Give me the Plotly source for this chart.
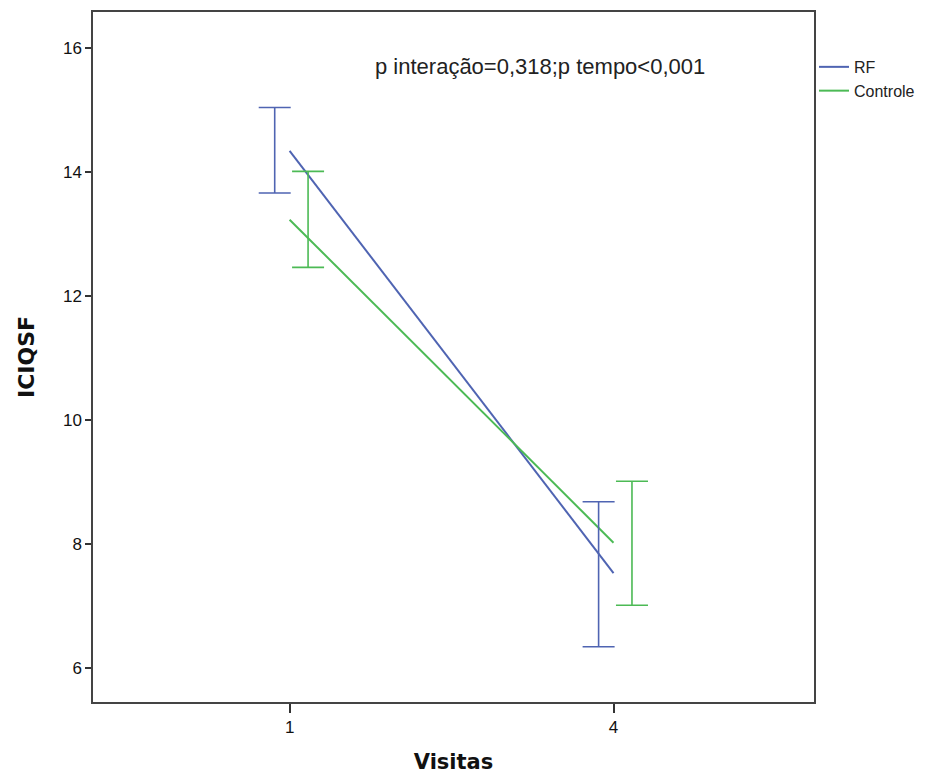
import plotly.graph_objects as go

# Data
visits = ["1", "4"]
series_names = ["RF", "Controle"]
rf_mean = [14.34, 7.53]
rf_upper = [15.04, 8.68]
rf_lower = [13.66, 6.34]
ctrl_mean = [13.23, 8.02]
ctrl_upper = [14.01, 9.01]
ctrl_lower = [12.46, 7.01]
y_ticks = [6, 8, 10, 12, 14, 16]

annotation_text = "p interação=0,318;p tempo<0,001"

colors = {"RF": "#4f64b2", "Controle": "#4cba55"}
offsets = {"RF": -0.046, "Controle": 0.057}

pos = list(range(len(visits)))

fig = go.Figure()

data = {
    "RF": (rf_mean, rf_upper, rf_lower),
    "Controle": (ctrl_mean, ctrl_upper, ctrl_lower),
}

for name in series_names:
    mean, up, lo = data[name]
    fig.add_trace(go.Scatter(
        x=pos, y=mean, mode="lines", name=name,
        line=dict(color=colors[name], width=2),
    ))

for name in series_names:
    mean, up, lo = data[name]
    fig.add_trace(go.Scatter(
        x=[p + offsets[name] for p in pos], y=mean, mode="markers",
        marker=dict(size=1, color="rgba(0,0,0,0)"),
        showlegend=False, hoverinfo="skip",
        error_y=dict(
            type="data", symmetric=False,
            array=[u - m for u, m in zip(up, mean)],
            arrayminus=[m - l for m, l in zip(mean, lo)],
            color=colors[name], thickness=1.6, width=16,
        ),
    ))

fig.add_annotation(
    x=0.62, y=0.921, xref="paper", yref="paper",
    xanchor="center", yanchor="middle",
    text=annotation_text, showarrow=False,
    font=dict(family="Liberation Sans, Arial", size=22, color="#222"),
)

fig.update_layout(
    width=914, height=766,
    margin=dict(l=85, r=106, t=2, b=72),
    paper_bgcolor="white", plot_bgcolor="white",
    font=dict(family="Liberation Sans, Arial", color="#111"),
    showlegend=True,
    legend=dict(
        x=1.0, y=0.945, xanchor="left", yanchor="top",
        font=dict(family="Liberation Sans, Arial", size=16, color="#222"),
        tracegroupgap=0, itemwidth=30,
        bgcolor="rgba(0,0,0,0)",
    ),
    xaxis=dict(
        range=[-0.607, 1.619],
        tickvals=pos, ticktext=visits,
        showgrid=False, zeroline=False,
        showline=True, mirror=True, linecolor="#444", linewidth=1.5,
        ticks="outside", ticklen=9, tickwidth=1.5, tickcolor="#333",
        tickfont=dict(size=17),
        title=dict(text="<b>Visitas</b>", standoff=20,
                   font=dict(family="DejaVu Sans", size=21, color="#111")),
    ),
    yaxis=dict(
        range=[5.45, 16.58],
        tickvals=y_ticks,
        showgrid=False, zeroline=False,
        showline=True, mirror=True, linecolor="#444", linewidth=1.5,
        ticks="outside", ticklen=6, tickwidth=1.5, tickcolor="#333",
        tickfont=dict(size=17),
        title=dict(text="<b>ICIQSF</b>", standoff=22,
                   font=dict(family="DejaVu Sans", size=22, color="#111")),
    ),
)

fig.write_html("out.html")
